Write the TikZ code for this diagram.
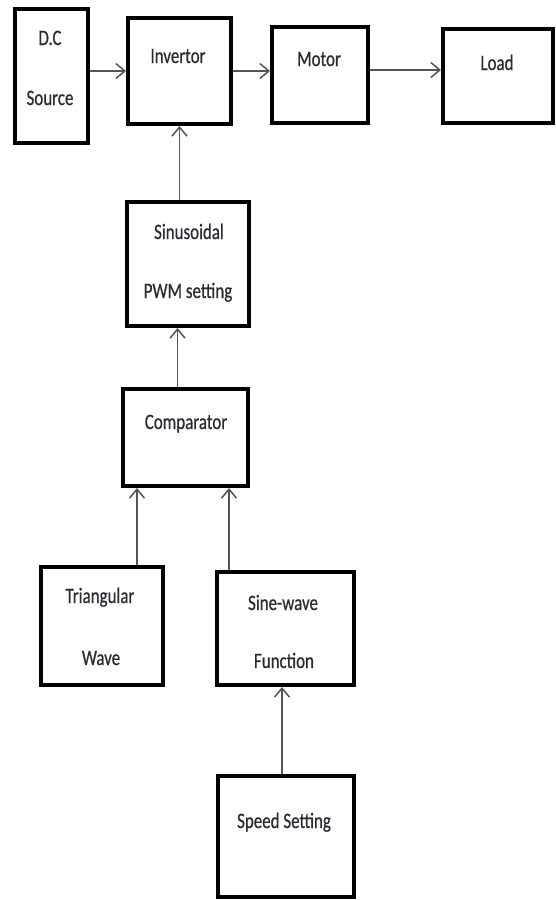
\documentclass[tikz,border=0pt]{standalone}
\usepackage{fontspec}
\setmainfont[FakeStretch=0.77, FakeBold=0.6]{Carlito}
\usepackage{tikz}
\usetikzlibrary{positioning,arrows.meta}
\definecolor{wire}{HTML}{555555}
\definecolor{ink}{HTML}{2B2B33}

\begin{document}
\begin{tikzpicture}[x=1pt, y=-1pt,
  box/.style={draw, line width=4pt, inner sep=0pt},
  lbl/.style={anchor=base, text=ink, font=\fontsize{22}{26}\selectfont},
  flow/.style={draw=wire, line width=1.6pt,
    -{Straight Barb[length=9pt, width=15pt, line width=1.5pt]}}]
\useasboundingbox (0,0) rectangle (556,900);

% --- power path ---
\node[box, minimum width=73pt, minimum height=134pt] (dc) at (51.5,76) {};
\node[lbl] (dct1) at (50,45) {D.C};
\node[lbl] (dct2) at (50,105) {Source};
\node[box, minimum width=103pt, minimum height=106pt] (inv) at (179.5,71) {};
\node[lbl] (invt) at (178,63) {Invertor};
\node[box, minimum width=96pt, minimum height=96pt] (motor) at (320,75) {};
\node[lbl] (motort) at (319,66) {Motor};
\node[box, minimum width=110pt, minimum height=94pt] (load) at (498,76) {};
\node[lbl] (loadt) at (497,70) {Load};

% --- control path ---
\node[box, minimum width=122pt, minimum height=124pt] (pwm) at (188,264) {};
\node[lbl] (pwmt1) at (189,239) {Sinusoidal};
\node[lbl] (pwmt2) at (188,298) {PWM setting};
\node[box, minimum width=125pt, minimum height=97pt] (comp) at (185.5,437.5) {};
\node[lbl] (compt) at (186,429) {Comparator};
\node[box, minimum width=122pt, minimum height=118pt] (tri) at (102,626) {};
\node[lbl] (trit1) at (100,603) {Triangular};
\node[lbl] (trit2) at (101,665) {Wave};
\node[box, minimum width=137pt, minimum height=113pt] (sine) at (285.5,628.5) {};
\node[lbl] (sinet1) at (283,610) {Sine-wave};
\node[lbl] (sinet2) at (284,668) {Function};
\node[box, minimum width=136pt, minimum height=121pt] (speed) at (286,836.5) {};
\node[lbl] (speedt) at (284,828) {Speed Setting};

% --- connectors ---
\draw[flow] (dc.east |- inv.west) -- (inv.west);
\draw[flow] (inv.east) -- (inv.east -| motor.west);
\draw[flow] ([yshift=5pt]motor.east) -- ([yshift=5pt]motor.east -| load.west);
\draw[flow] (pwm.north -| inv.south) -- (inv.south);
\draw[flow] ([xshift=-8pt]comp.north) -- ([xshift=-8pt]comp.north |- pwm.south);
\draw[flow] ([xshift=16pt]comp.south west |- tri.north) -- ([xshift=16pt]comp.south west);
\draw[flow] ([xshift=14pt]sine.north west) -- ([xshift=14pt]sine.north west |- comp.south);
\draw[flow] ([xshift=-4pt]speed.north) -- ([xshift=-4pt]speed.north |- sine.south);

\end{tikzpicture}
\end{document}
